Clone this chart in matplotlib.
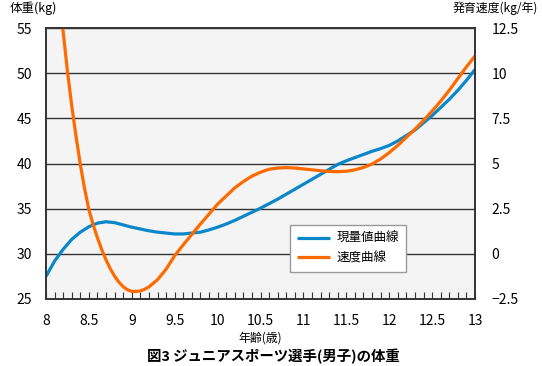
import matplotlib
matplotlib.use("Agg")
import matplotlib.pyplot as plt
from matplotlib.ticker import MultipleLocator

plt.rcParams['font.family'] = ['Noto Sans CJK JP', 'DejaVu Sans']

# weight curve (left axis, kg), read at 0.1 year steps
ages_w = [8.0, 8.1, 8.2, 8.3, 8.4, 8.5, 8.6, 8.7, 8.8, 8.9,
          9.0, 9.1, 9.2, 9.3, 9.4, 9.5, 9.6, 9.7, 9.8, 9.9,
          10.0, 10.1, 10.2, 10.3, 10.4, 10.5, 10.6, 10.7, 10.8, 10.9,
          11.0, 11.1, 11.2, 11.3, 11.4, 11.5, 11.6, 11.7, 11.8, 11.9,
          12.0, 12.1, 12.2, 12.3, 12.4, 12.5, 12.6, 12.7, 12.8, 12.9, 13.0]
weight = [27.5, 29.2, 30.5, 31.6, 32.4, 33.0, 33.4, 33.55, 33.45, 33.2,
          32.95, 32.75, 32.55, 32.4, 32.3, 32.2, 32.2, 32.3, 32.4, 32.65,
          32.95, 33.3, 33.7, 34.15, 34.6, 35.05, 35.55, 36.05, 36.6, 37.15,
          37.7, 38.25, 38.8, 39.35, 39.9, 40.3, 40.65, 41.0, 41.35, 41.65,
          42.0, 42.5, 43.1, 43.7, 44.5, 45.3, 46.2, 47.1, 48.1, 49.2, 50.4]

# growth velocity curve (right axis, kg/year)
ages_v = [8.15, 8.2, 8.25, 8.3, 8.35, 8.4, 8.45, 8.5, 8.55, 8.6, 8.65, 8.7, 8.75,
          8.8, 8.85, 8.9, 8.95, 9.0, 9.05, 9.1, 9.15, 9.2, 9.3, 9.4, 9.5, 9.6, 9.7, 9.8, 9.9,
          10.0, 10.1, 10.2, 10.3, 10.4, 10.5, 10.6, 10.7, 10.8, 10.9,
          11.0, 11.1, 11.2, 11.3, 11.4, 11.5, 11.6, 11.7, 11.8, 11.9,
          12.0, 12.1, 12.2, 12.3, 12.4, 12.5, 12.6, 12.7, 12.8, 12.9, 13.0]
velocity = [14.6, 12.3, 10.1, 8.2, 6.5, 4.95, 3.6, 2.45, 1.6, 0.88, 0.23, -0.34, -0.83,
            -1.24, -1.57, -1.82, -1.99, -2.08, -2.08, -2.05, -1.96, -1.83, -1.43, -0.85, -0.1,
            0.5, 1.08, 1.65, 2.2,
            2.75, 3.2, 3.65, 4.0, 4.3, 4.52, 4.68, 4.75, 4.77, 4.75,
            4.7, 4.65, 4.6, 4.56, 4.55, 4.57, 4.65, 4.78, 4.97, 5.25,
            5.6, 6.0, 6.45, 6.9, 7.38, 7.9, 8.45, 9.05, 9.7, 10.35, 10.95]

x_ticks = [8, 8.5, 9, 9.5, 10, 10.5, 11, 11.5, 12, 12.5, 13]
x_labels = ['8', '8.5', '9', '9.5', '10', '10.5', '11', '11.5', '12', '12.5', '13']
left_ticks = [25, 30, 35, 40, 45, 50, 55]
right_ticks = [-2.5, 0, 2.5, 5, 7.5, 10, 12.5]
right_labels = ['−2.5', '0', '2.5', '5', '7.5', '10', '12.5']

blue = '#0a87c9'
orange = '#ff6a00'
dark = '#333333'

fig = plt.figure(figsize=(5.42, 3.66), dpi=100)
ax = fig.add_axes([46 / 542, 67 / 366, 429 / 542, 271 / 366])
ax.set_facecolor('#f4f4f4')
ax2 = ax.twinx()

l1, = ax.plot(ages_w, weight, color=blue, lw=2.3, solid_capstyle='butt',
              solid_joinstyle='round')
l2, = ax2.plot(ages_v, velocity, color=orange, lw=2.3, solid_capstyle='butt',
               solid_joinstyle='round')

ax.set_xlim(8, 13)
ax.set_ylim(25, 55)
ax2.set_ylim(-2.5, 12.5)

ax.set_yticks(left_ticks)
ax.set_yticklabels([str(t) for t in left_ticks])
ax2.set_yticks(right_ticks)
ax2.set_yticklabels(right_labels)
ax.set_xticks(x_ticks)
ax.set_xticklabels(x_labels)
ax.xaxis.set_minor_locator(MultipleLocator(0.1))

ax.yaxis.grid(True, color=dark, lw=1)
ax.set_axisbelow(True)

for a in (ax, ax2):
    for s in a.spines.values():
        s.set_color(dark)
        s.set_linewidth(1.2)

ax.tick_params(axis='y', length=0, pad=10, labelsize=10)
ax2.tick_params(axis='y', length=0, pad=12, labelsize=10)
ax.tick_params(axis='x', which='both', direction='in', length=5, width=0.8,
               color=dark, pad=11, labelsize=10)

fig.text(10 / 542, 1 - 8 / 366, '体重(kg)', fontsize=9, va='center', ha='left')
fig.text(538 / 542, 1 - 8 / 366, '発育速度(kg/年)', fontsize=8.6, va='center', ha='right')
fig.text(260 / 542, 1 - 338 / 366, '年齢(歳)', fontsize=8.6, va='center', ha='center')
fig.text(273 / 542, 1 - 356 / 366, '図3 ジュニアスポーツ選手(男子)の体重',
         fontsize=10.4, fontweight='bold', va='center', ha='center')

leg = ax2.legend([l1, l2], ['現量値曲線', '速度曲線'], loc='lower left',
                 bbox_to_anchor=((290 - 46) / 429, (299 - 272) / 271),
                 borderaxespad=0, fancybox=False, framealpha=1,
                 edgecolor='#999999', fontsize=9, handlelength=2.6,
                 handletextpad=0.5, labelspacing=0.5, borderpad=0.6)
leg.get_frame().set_linewidth(1)

fig.savefig('out.png', dpi=100)
